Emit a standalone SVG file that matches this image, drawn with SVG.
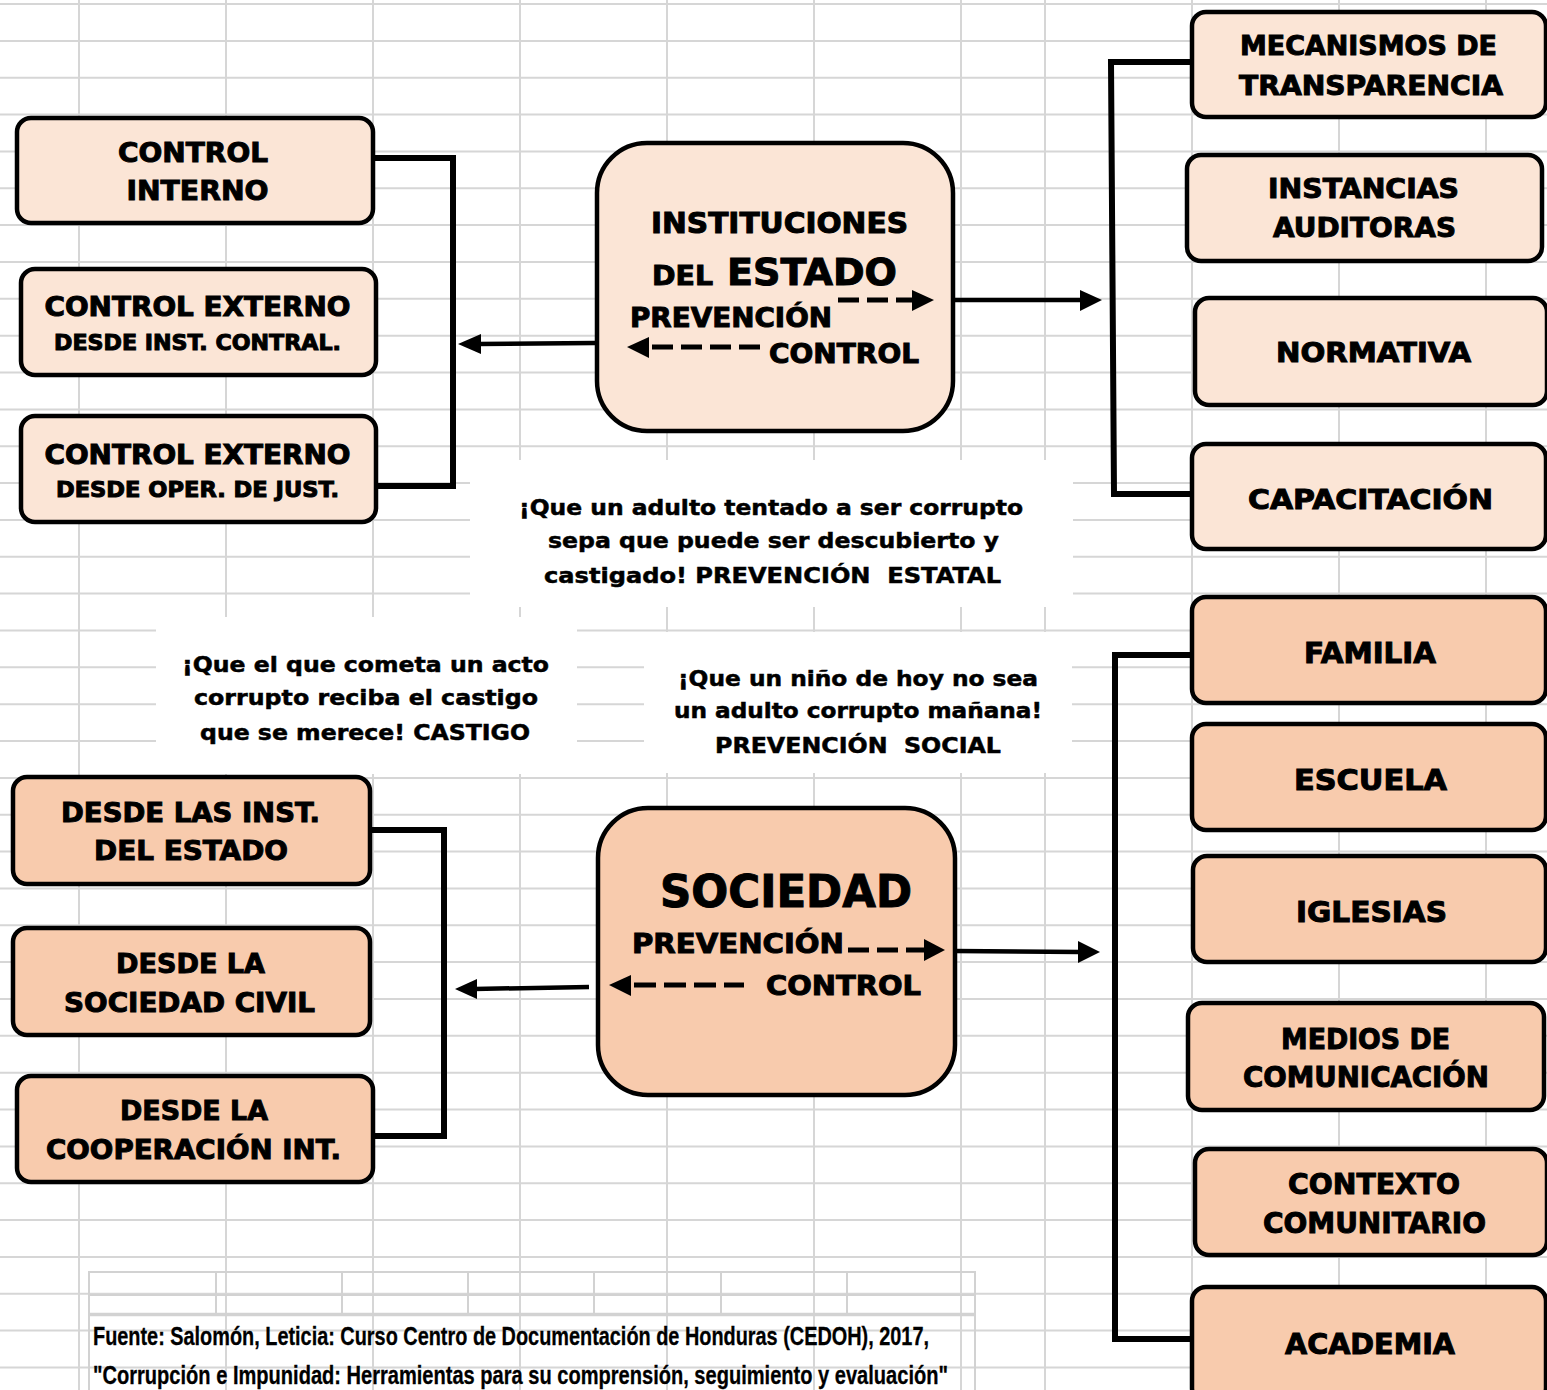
<svg xmlns="http://www.w3.org/2000/svg" width="1547" height="1390" viewBox="0 0 1547 1390">
<style>
.grid{stroke:#d6d6d6;stroke-width:2;fill:none}
.pic{stroke:#d2d2d2;stroke-width:2;fill:none}
.box{stroke:#000;stroke-width:4.5}
.lt{fill:#fbe5d6}
.dk{fill:#f8cbad}
.t{font-family:"DejaVu Sans","Liberation Sans",sans-serif;font-weight:bold;fill:#000;stroke:#000;stroke-width:1;text-anchor:middle}
.ts{font-family:"DejaVu Sans","Liberation Sans",sans-serif;font-weight:bold;fill:#000;stroke:#000;stroke-width:1}
.c{font-family:"DejaVu Sans","Liberation Sans",sans-serif;font-weight:bold;fill:#000;stroke:#000;stroke-width:0.5;font-size:21px;text-anchor:middle}
.f{font-family:"Liberation Sans",Arial,sans-serif;font-weight:bold;fill:#000;stroke:#000;stroke-width:0.3;font-size:26px}
.br{stroke:#000;stroke-width:6;fill:none}
.sh{stroke:#000;stroke-width:4.5;fill:none}
.dash{stroke:#000;stroke-width:5;fill:none}
.head{fill:#000}
</style>
<rect width="1547" height="1390" fill="#fff"/>
<g id="grid">
<path class="grid" d="M79,0V1390M226,0V1390M373,0V1390M520,0V1390M667,0V1390M814,0V1390M961,0V1390M1045,0V1390M1192,0V1390M1339,0V1390M1486,0V1390"/>
<path class="grid" d="M0,4H1547M0,40.9H1547M0,77.7H1547M0,114.6H1547M0,151.4H1547M0,188.3H1547M0,225.1H1547M0,262H1547M0,298.8H1547M0,335.7H1547M0,372.5H1547M0,409.4H1547M0,446.2H1547M0,483.1H1547M0,519.9H1547M0,556.8H1547M0,593.6H1547M0,630.5H1547M0,667.3H1547M0,704.2H1547M0,741H1547M0,777.9H1547M0,814.7H1547M0,851.6H1547M0,888.4H1547M0,925.3H1547M0,962.1H1547M0,999H1547M0,1035.8H1547M0,1072.7H1547M0,1109.5H1547M0,1146.4H1547M0,1183.2H1547M0,1220.1H1547M0,1256.9H1547M0,1293.8H1547M0,1330.6H1547M0,1367.5H1547"/>
<rect x="470" y="460" width="603" height="147" fill="#fff"/>
<rect x="156" y="617" width="421" height="157" fill="#fff"/>
<rect x="644" y="632" width="428" height="141" fill="#fff"/>
</g>
<g id="fuente">
<path class="pic" d="M89,1390V1272H975V1390M216,1272V1314M342,1272V1314M468,1272V1314M594,1272V1314M721,1272V1314M847,1272V1314M89,1295H975"/>
<path class="pic" d="M89,1314.5H975" style="stroke-width:3.5"/>
<text class="f" x="93" y="1345" textLength="836" lengthAdjust="spacingAndGlyphs">Fuente: Salomón, Leticia: Curso Centro de Documentación de Honduras (CEDOH), 2017,</text>
<text class="f" x="93" y="1384" font-size="25" textLength="855" lengthAdjust="spacingAndGlyphs">"Corrupción e Impunidad: Herramientas para su comprensión, seguimiento y evaluación"</text>
</g>
<g id="connectors">
<path class="br" d="M373,158H453V486H376"/>
<path class="sh" d="M595,343L478,344"/>
<polygon class="head" points="458,344 481,334 481,354"/>
<path class="sh" d="M953,300H1082"/>
<polygon class="head" points="1080,290 1102,300 1080,311"/>
<path class="br" d="M1192,62H1111L1114,494H1192"/>
<path class="br" d="M370,830H444V1136H373"/>
<path class="sh" d="M589,987L474,989"/>
<polygon class="head" points="455,989 477,979 477,999"/>
<path class="sh" d="M955,951L1080,952"/>
<polygon class="head" points="1078,941 1100,952 1078,963"/>
<path class="br" d="M1192,655H1115V1339H1192"/>
</g>
<g id="control-interno">
<rect class="box lt" x="17" y="118" width="356" height="105" rx="14"/>
<text class="t" x="193" y="162" font-size="27" textLength="150" lengthAdjust="spacingAndGlyphs">CONTROL</text>
<text class="t" x="197.5" y="200" font-size="27" textLength="142" lengthAdjust="spacingAndGlyphs">INTERNO</text>
</g>
<g id="control-externo-inst">
<rect class="box lt" x="21" y="269" width="355" height="106" rx="14"/>
<text class="t" x="197.5" y="316" font-size="26" textLength="306" lengthAdjust="spacingAndGlyphs">CONTROL EXTERNO</text>
<text class="t" x="197.5" y="350" font-size="21" textLength="287" lengthAdjust="spacingAndGlyphs">DESDE INST. CONTRAL.</text>
</g>
<g id="control-externo-oper">
<rect class="box lt" x="21" y="416" width="355" height="106" rx="14"/>
<text class="t" x="197.5" y="464" font-size="26" textLength="306" lengthAdjust="spacingAndGlyphs">CONTROL EXTERNO</text>
<text class="t" x="197.5" y="497" font-size="21" textLength="283" lengthAdjust="spacingAndGlyphs">DESDE OPER. DE JUST.</text>
</g>
<g id="instituciones">
<rect class="box lt" x="597" y="143" width="356" height="288" rx="50"/>
<text class="t" x="779.5" y="233" font-size="28" textLength="257" lengthAdjust="spacingAndGlyphs">INSTITUCIONES</text>
<text class="ts" x="652" y="285" font-size="27" textLength="61" lengthAdjust="spacingAndGlyphs">DEL</text>
<text class="ts" x="727" y="285" font-size="38" textLength="170" lengthAdjust="spacingAndGlyphs">ESTADO</text>
<text class="ts" x="630" y="327" font-size="27" textLength="202" lengthAdjust="spacingAndGlyphs">PREVENCIÓN</text>
<text class="ts" x="769" y="363" font-size="27" textLength="150" lengthAdjust="spacingAndGlyphs">CONTROL</text>
<path class="dash" d="M838,300H914" stroke-dasharray="21 8"/>
<polygon class="head" points="912,290 934,300 912,311"/>
<path class="dash" d="M652,347H761" stroke-dasharray="21 8"/>
<polygon class="head" points="627,347 649,337 649,358"/>
</g>
<g id="mecanismos">
<rect class="box lt" x="1192" y="12" width="354" height="105" rx="14"/>
<text class="t" x="1368.5" y="55" font-size="27" textLength="257" lengthAdjust="spacingAndGlyphs">MECANISMOS DE</text>
<text class="t" x="1371" y="95" font-size="27" textLength="264" lengthAdjust="spacingAndGlyphs">TRANSPARENCIA</text>
</g>
<g id="instancias">
<rect class="box lt" x="1187" y="155" width="355" height="106" rx="14"/>
<text class="t" x="1363.5" y="198" font-size="27" textLength="191" lengthAdjust="spacingAndGlyphs">INSTANCIAS</text>
<text class="t" x="1364.5" y="237" font-size="27" textLength="183" lengthAdjust="spacingAndGlyphs">AUDITORAS</text>
</g>
<g id="normativa">
<rect class="box lt" x="1195" y="298" width="352" height="107" rx="14"/>
<text class="t" x="1373.5" y="362" font-size="27" textLength="195" lengthAdjust="spacingAndGlyphs">NORMATIVA</text>
</g>
<g id="capacitacion">
<rect class="box lt" x="1192" y="444" width="354" height="105" rx="14"/>
<text class="t" x="1370.5" y="509" font-size="27" textLength="245" lengthAdjust="spacingAndGlyphs">CAPACITACIÓN</text>
</g>
<g id="nota-estatal">
<text class="c" x="771" y="515" textLength="504" lengthAdjust="spacingAndGlyphs">¡Que un adulto tentado a ser corrupto</text>
<text class="c" x="773.5" y="548" textLength="451" lengthAdjust="spacingAndGlyphs">sepa que puede ser descubierto y</text>
<text class="c" x="772.5" y="583" textLength="457" lengthAdjust="spacingAndGlyphs" xml:space="preserve">castigado! PREVENCIÓN  ESTATAL</text>
</g>
<g id="nota-castigo">
<text class="c" x="365.5" y="672" textLength="367" lengthAdjust="spacingAndGlyphs">¡Que el que cometa un acto</text>
<text class="c" x="366" y="705" textLength="344" lengthAdjust="spacingAndGlyphs">corrupto reciba el castigo</text>
<text class="c" x="365" y="740" textLength="330" lengthAdjust="spacingAndGlyphs">que se merece! CASTIGO</text>
</g>
<g id="nota-social">
<text class="c" x="858" y="686" textLength="360" lengthAdjust="spacingAndGlyphs">¡Que un niño de hoy no sea</text>
<text class="c" x="858" y="718" textLength="368" lengthAdjust="spacingAndGlyphs">un adulto corrupto mañana!</text>
<text class="c" x="858" y="753" textLength="286" lengthAdjust="spacingAndGlyphs" xml:space="preserve">PREVENCIÓN  SOCIAL</text>
</g>
<g id="desde-estado">
<rect class="box dk" x="13" y="777" width="357" height="107" rx="14"/>
<text class="t" x="190.5" y="822" font-size="27" textLength="259" lengthAdjust="spacingAndGlyphs">DESDE LAS INST.</text>
<text class="t" x="191" y="860" font-size="27" textLength="194" lengthAdjust="spacingAndGlyphs">DEL ESTADO</text>
</g>
<g id="desde-sociedad">
<rect class="box dk" x="13" y="928" width="357" height="107" rx="14"/>
<text class="t" x="190.5" y="973" font-size="27" textLength="149" lengthAdjust="spacingAndGlyphs">DESDE LA</text>
<text class="t" x="189.5" y="1012" font-size="27" textLength="251" lengthAdjust="spacingAndGlyphs">SOCIEDAD CIVIL</text>
</g>
<g id="desde-cooperacion">
<rect class="box dk" x="17" y="1076" width="356" height="106" rx="14"/>
<text class="t" x="194" y="1120" font-size="27" textLength="148" lengthAdjust="spacingAndGlyphs">DESDE LA</text>
<text class="t" x="193.5" y="1159" font-size="27" textLength="295" lengthAdjust="spacingAndGlyphs">COOPERACIÓN INT.</text>
</g>
<g id="sociedad">
<rect class="box dk" x="598" y="808" width="357" height="287" rx="50"/>
<text class="ts" x="660" y="907" font-size="44" textLength="252" lengthAdjust="spacingAndGlyphs">SOCIEDAD</text>
<text class="ts" x="632" y="953" font-size="27" textLength="212" lengthAdjust="spacingAndGlyphs">PREVENCIÓN</text>
<text class="ts" x="766" y="995" font-size="27" textLength="155" lengthAdjust="spacingAndGlyphs">CONTROL</text>
<path class="dash" d="M848,950H926" stroke-dasharray="21 8"/>
<polygon class="head" points="924,939 945,950 924,961"/>
<path class="dash" d="M634,985H744" stroke-dasharray="22 8"/>
<polygon class="head" points="609,985 631,975 631,996"/>
</g>
<g id="familia">
<rect class="box dk" x="1192" y="597" width="354" height="106" rx="14"/>
<text class="t" x="1370" y="663" font-size="28" textLength="132" lengthAdjust="spacingAndGlyphs">FAMILIA</text>
</g>
<g id="escuela">
<rect class="box dk" x="1192" y="724" width="354" height="106" rx="14"/>
<text class="t" x="1370.5" y="790" font-size="28" textLength="153" lengthAdjust="spacingAndGlyphs">ESCUELA</text>
</g>
<g id="iglesias">
<rect class="box dk" x="1193" y="856" width="353" height="106" rx="14"/>
<text class="t" x="1371.5" y="922" font-size="28" textLength="151" lengthAdjust="spacingAndGlyphs">IGLESIAS</text>
</g>
<g id="medios">
<rect class="box dk" x="1188" y="1003" width="356" height="107" rx="14"/>
<text class="t" x="1365.5" y="1049" font-size="28" textLength="169" lengthAdjust="spacingAndGlyphs">MEDIOS DE</text>
<text class="t" x="1366" y="1087" font-size="28" textLength="246" lengthAdjust="spacingAndGlyphs">COMUNICACIÓN</text>
</g>
<g id="contexto">
<rect class="box dk" x="1195" y="1149" width="352" height="106" rx="14"/>
<text class="t" x="1374" y="1194" font-size="28" textLength="172" lengthAdjust="spacingAndGlyphs">CONTEXTO</text>
<text class="t" x="1374.5" y="1233" font-size="28" textLength="223" lengthAdjust="spacingAndGlyphs">COMUNITARIO</text>
</g>
<g id="academia">
<rect class="box dk" x="1192" y="1287" width="354" height="115" rx="14"/>
<text class="t" x="1370" y="1354" font-size="28" textLength="170" lengthAdjust="spacingAndGlyphs">ACADEMIA</text>
</g>
</svg>
